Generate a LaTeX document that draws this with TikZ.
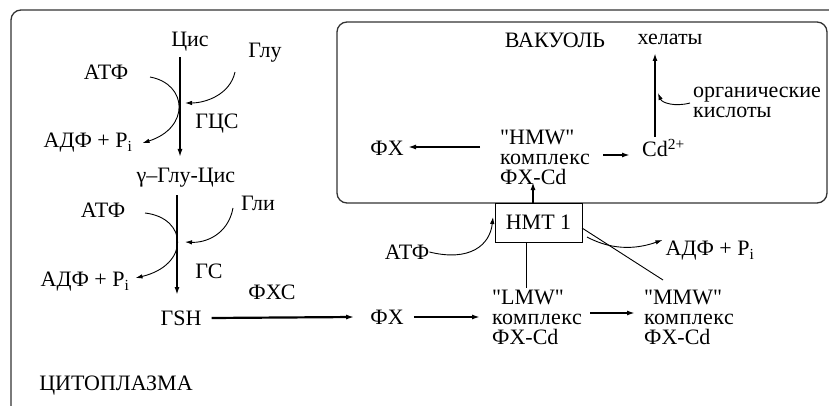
\documentclass[tikz,border=0pt]{standalone}
\usepackage{fontspec}
\setmainfont{Liberation Serif}[Ligatures=TeXOff]
\newfontfamily\widefam{Liberation Serif}[Ligatures=TeXOff, LetterSpace=2]
\usetikzlibrary{arrows.meta,calc}
\begin{document}
\begin{tikzpicture}[x=1pt,y=-1pt,
  lbl/.style={inner sep=0pt, font=\fontsize{22}{22}\selectfont},
  blk/.style={inner sep=0pt, align=left, anchor=north west, font=\fontsize{22}{20}\selectfont},
  frame/.style={line width=1.3pt, draw=black!80},
  thk/.style={line width=2.2pt, -{Latex[length=8pt,width=5pt]}},
  mid/.style={line width=1.5pt, -{Latex[length=8pt,width=5pt]}},
  thn/.style={line width=0.9pt, -{Latex[length=7pt,width=4.5pt]}},
  plain/.style={line width=0.9pt}]
\newcommand\komp{{\widefam комплекс}}
\useasboundingbox (0,0) rectangle (829,406);
\fill[white] (0,0) rectangle (829,406);
% outer frame (cytoplasm)
\draw[frame, rounded corners=10pt] (11,406) -- (11,10) -- (829,10);
% vacuole
\draw[frame, rounded corners=10pt] (337,22) rectangle (827,203);

% labels
\node[lbl] (cis) at (190,42) {Цис};
\node[lbl] (glu) at (265,53) {Глу};
\node[lbl] (atf1) at (106,72) {АТФ};
\node[lbl] (gcs) at (217,124) {ГЦС};
\node[lbl] (adf1) at (88,143) {АДФ + P\textsubscript{i}};
\node[lbl] (gglucis) at (186,178) {γ–Глу-Цис};
\node[lbl] (atf2) at (103,210) {АТФ};
\node[lbl] (gli) at (258,203) {Гли};
\node[lbl] (gs) at (209,271) {ГС};
\node[lbl] (adf2) at (85,282) {АДФ + P\textsubscript{i}};
\node[lbl] (gsh) at (181,318) {ГSH};
\node[lbl] (fxs) at (272,292) {ФХС};
\node[lbl] (fx1) at (387,317) {ФХ};
\node[blk] (lmw) at (492,290) {"LMW"\\\komp\\ФХ-Cd};
\node[blk] (mmw) at (644,290) {"MMW"\\\komp\\ФХ-Cd};
\node[lbl] (atf3) at (407,252) {АТФ};
\node[lbl] (adf3) at (710,251) {АДФ + P\textsubscript{i}};
\node[lbl] (vac) at (555,40) {ВАКУОЛЬ};
\node[lbl] (helaty) at (670,39) {хелаты};
\node[blk] (org) at (693,87) {органические\\кислоты};
\node[lbl, anchor=west] (cd) at (642,148) {Cd\textsuperscript{2+}};
\node[blk] (hmw) at (500,130) {"HMW"\\\komp\\ФХ-Cd};
\node[lbl] (fx2) at (387,148) {ФХ};
\node[lbl] (cyto) at (116,386) {ЦИТОПЛАЗМА};
\node[lbl, draw, line width=0.9pt, fill=white, minimum width=87pt, minimum height=39pt] (hmt) at (538.5,222.5) {HMT 1};

% step 1
\draw[mid] (180,57) -- (180,157);
\coordinate (a1s) at (150,77);
\draw[thn] (a1s) .. controls (188,84) and (190,128) .. ($(adf1.east)+(10,0)$);
\draw[thn] (235,72) .. controls (230,95) and (205,103) .. (185,103);
% step 2
\draw[thk] (177,195) -- (177,295);
\draw[thn] (145,213) .. controls (188,218) and (190,265) .. ($(adf2.east)+(6,-4)$);
\draw[thn] (233,208) .. controls (228,235) and (205,243) .. (185,242);
% main line
\draw[thk] ($(gsh.east)+(10,0)$) -- ($(fx1.west)+(-16,0)$);
\draw[thk] ($(fx1.east)+(10,0)$) -- (480,317);
\draw[thk] (590,313) -- (635,313);
% HMT
\draw[plain] (526,242) -- (526,288);
\draw[thk] (533,203) -- (533,182);
\draw[thn] (atf3.east) .. controls (470,262) and (490,245) .. (493,217);
\draw[plain] (582,228) -- (663,280);
\draw[thn] (587,237) .. controls (615,252) and (640,248) .. ($(adf3.west)+(-3,-11)$);
% vacuole
\draw[thk] (480,147) -- (408,147);
\draw[thk] (603,155) -- (630,155);
\draw[thk] (655,137) -- (655,53);
\draw[thn] (690,103) .. controls (675,107) and (662,103) .. (658,93);
\end{tikzpicture}
\end{document}
